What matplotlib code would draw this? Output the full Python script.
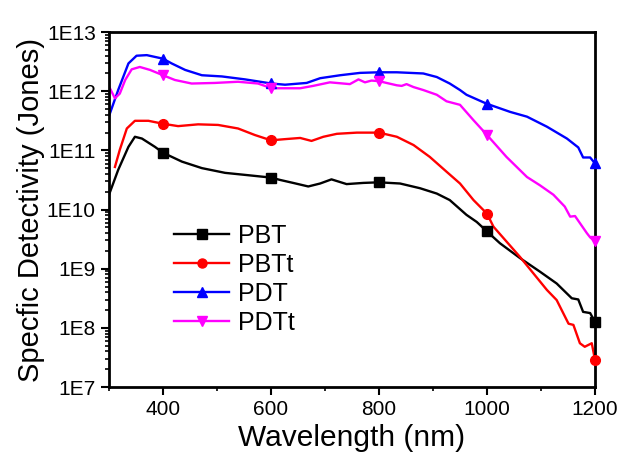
import numpy as np
import matplotlib
matplotlib.use("Agg")
import matplotlib.pyplot as plt
from matplotlib.ticker import LogLocator, FixedLocator, NullFormatter

plt.rcParams['font.family'] = ['Liberation Sans', 'DejaVu Sans']

# PDT (blue)
pdt_x = [300, 317, 336, 351, 370, 400, 416, 441, 472, 509, 552, 601, 626, 666, 691, 728, 765, 800, 833, 882, 907,
         931, 950, 962, 999, 1043, 1074, 1111, 1148, 1169, 1178, 1191, 1200]
pdt_log = [11.58, 12.02, 12.47, 12.60, 12.61, 12.55, 12.47, 12.36, 12.27, 12.25, 12.20, 12.13, 12.11, 12.14, 12.22,
           12.27, 12.31, 12.32, 12.32, 12.30, 12.24, 12.13, 12.02, 11.94, 11.79, 11.65, 11.57, 11.40, 11.20, 11.05,
           10.88, 10.88, 10.78]

# PDTt (magenta)
pdtt_x = [300, 311, 320, 330, 342, 357, 376, 400, 422, 453, 496, 539, 576, 601, 626, 654, 678, 709, 746, 762, 774,
          786, 800, 814, 833, 842, 851, 864, 882, 907, 925, 950, 975, 1000, 1036, 1074, 1098, 1123, 1144, 1154, 1163,
          1185, 1191, 1200]
pdtt_log = [12.08, 11.88, 11.96, 12.19, 12.37, 12.41, 12.36, 12.27, 12.19, 12.13, 12.14, 12.16, 12.13, 12.05, 12.05,
            12.05, 12.09, 12.15, 12.12, 12.20, 12.15, 12.18, 12.17, 12.14, 12.10, 12.09, 12.12, 12.07, 12.02, 11.94,
            11.83, 11.77, 11.51, 11.26, 10.89, 10.55, 10.41, 10.25, 10.05, 9.88, 9.89, 9.60, 9.53, 9.46]

# PBTt (red)
pbtt_x = [311, 320, 333, 348, 373, 400, 428, 465, 502, 539, 570, 600, 626, 654, 675, 697, 722, 759, 800, 833, 864,
          894, 925, 950, 975, 1000, 1012, 1061, 1111, 1129, 1151, 1160, 1172, 1181, 1194, 1200]
pbtt_log = [10.72, 11.01, 11.37, 11.50, 11.50, 11.45, 11.41, 11.44, 11.43, 11.37, 11.26, 11.17, 11.19, 11.21, 11.16,
            11.23, 11.28, 11.30, 11.30, 11.23, 11.09, 10.89, 10.64, 10.44, 10.16, 9.93, 9.71, 9.20, 8.64, 8.47, 8.07,
            8.05, 7.74, 7.68, 7.74, 7.46]

# PBT (black)
pbt_x = [300, 317, 336, 348, 361, 385, 400, 435, 472, 515, 558, 600, 617, 641, 669, 691, 712, 740, 771, 800, 839,
         876, 907, 931, 962, 981, 1000, 1024, 1061, 1098, 1129, 1157, 1169, 1178, 1191, 1200]
pbt_log = [10.25, 10.67, 11.06, 11.23, 11.20, 11.06, 10.96, 10.81, 10.70, 10.62, 10.58, 10.54, 10.50, 10.45, 10.39,
           10.44, 10.51, 10.43, 10.45, 10.46, 10.44, 10.36, 10.27, 10.16, 9.91, 9.79, 9.63, 9.43, 9.18, 8.95, 8.75,
           8.50, 8.48, 8.27, 8.25, 8.10]

marker_x = [400, 600, 800, 1000, 1200]

series = [
    ("PBT", pbt_x, pbt_log, "black", "s"),
    ("PBTt", pbtt_x, pbtt_log, "#ff0000", "o"),
    ("PDT", pdt_x, pdt_log, "#0000ff", "^"),
    ("PDTt", pdtt_x, pdtt_log, "#ff00ff", "v"),
]

fig = plt.figure(figsize=(6.25, 4.58), dpi=100)
ax = fig.add_axes([0.1744, 0.155, 0.7776, 0.775])

for name, xs, ls, col, mk in series:
    xs = np.array(xs, float)
    ls = np.array(ls, float)
    ax.plot(xs, 10 ** ls, color=col, lw=1.7, zorder=2, solid_joinstyle='round')
    mx = [m for m in marker_x if xs[0] <= m <= xs[-1]]
    my = 10 ** np.interp(mx, xs, ls)
    ax.plot(mx, my, linestyle='none', marker=mk, color=col, ms=7, zorder=3, clip_on=False)
    ax.plot([], [], color=col, lw=1.7, marker=mk, ms=6.5, label=name)

ax.set_yscale('log')
ax.set_xlim(300, 1200)
ax.set_ylim(1e7, 1e13)
ax.set_xticks([400, 600, 800, 1000, 1200])
ax.xaxis.set_minor_locator(FixedLocator([300, 500, 700, 900, 1100]))
ax.set_yticks([10.0 ** k for k in range(7, 14)])
ax.set_yticklabels(["1E%d" % k for k in range(7, 14)])
ax.yaxis.set_minor_locator(LogLocator(base=10, subs=np.arange(2, 10), numticks=20))
ax.yaxis.set_minor_formatter(NullFormatter())

for s in ax.spines.values():
    s.set_linewidth(2)
ax.tick_params(which='major', direction='out', length=6, width=1.5, labelsize=15, top=False, right=False)
ax.tick_params(which='minor', direction='out', length=3, width=1.2, top=False, right=False)
ax.tick_params(axis='x', pad=3)

ax.set_xlabel("Wavelength (nm)", fontsize=21.5, labelpad=4)
ax.set_ylabel("Specfic Detectivity (Jones)", fontsize=21, labelpad=1)

handles, labels = ax.get_legend_handles_labels()
leg = ax.legend(handles, labels, loc='upper left', bbox_to_anchor=(174 / 625, 1 - 224 / 458),
                bbox_transform=fig.transFigure, frameon=False, fontsize=18, handlelength=2.2,
                handletextpad=0.35, labelspacing=0.2, borderpad=0, borderaxespad=0)

fig.savefig("out.png", dpi=100)
